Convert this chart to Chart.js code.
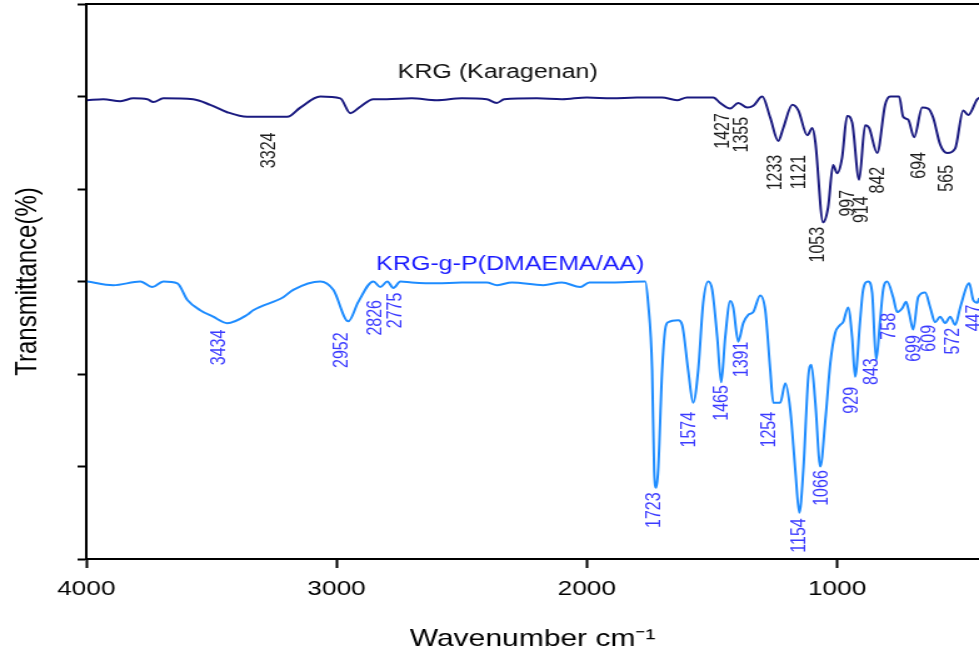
<!DOCTYPE html>
<html>
<head>
<meta charset="utf-8">
<title>FTIR KRG vs KRG-g-P(DMAEMA/AA)</title>
<script src="https://cdn.jsdelivr.net/npm/chart.js@4.4.1/dist/chart.umd.min.js"></script>
<style>
  html, body { margin: 0; padding: 0; background: #fff; overflow: hidden; }
  /* the source figure is stretched horizontally, so the chart is drawn narrow and scaled */
  #wrap { width: 783px; height: 660px; transform: scaleX(1.2503); transform-origin: 0 0; }
</style>
</head>
<body>
<div id="wrap"><canvas id="ftirChart" width="783" height="660"></canvas></div>
<script>
// KRG (Karagenan) spectrum
const krgWavenumber = [3996, 3932, 3864, 3812, 3756, 3732, 3692, 3573, 3505, 3437, 3357, 3277, 3197, 3145, 3065, 2985, 2945, 2905, 2853,
  2800, 2700, 2600, 2500, 2400, 2360, 2330, 2200, 2100, 2000, 1900, 1800, 1700, 1640, 1600, 1495, 1467, 1427, 1395, 1359, 1335,
  1299, 1267, 1235, 1215, 1179, 1155, 1119, 1099, 1087, 1056, 1036, 1016, 1000, 980, 960, 940, 912, 888, 872, 840, 808, 788,
  752, 736, 716, 692, 660, 636, 616, 588, 560, 528, 496, 476, 440, 430];
const krgTransmittance = [4.96, 4.97, 4.95, 4.98, 4.97, 4.94, 4.98, 4.97, 4.91, 4.83, 4.78, 4.78, 4.78, 4.88, 5.0, 4.98, 4.82, 4.89, 4.97,
  4.97, 4.98, 4.96, 4.98, 4.97, 4.93, 4.97, 4.98, 4.97, 4.99, 4.98, 4.99, 4.99, 4.96, 4.99, 4.99, 4.93, 4.87, 4.93, 4.88, 4.9,
  5.0, 4.77, 4.52, 4.66, 4.91, 4.85, 4.58, 4.66, 4.51, 3.64, 3.8, 4.26, 4.17, 4.34, 4.79, 4.72, 4.1, 4.69, 4.66, 4.39, 4.91, 5.0,
  5.0, 4.78, 4.75, 4.56, 4.88, 4.87, 4.77, 4.48, 4.39, 4.44, 4.85, 4.8, 4.97, 4.99];

// KRG-g-P(DMAEMA/AA) spectrum
const graftWavenumber = [3996, 3892, 3784, 3736, 3692, 3636, 3596, 3545, 3493, 3437, 3357, 3333, 3213, 3173, 3065, 3013, 2953, 2913,
  2853, 2825, 2797, 2773, 2745, 2700, 2600, 2500, 2400, 2358, 2300, 2174, 2100, 2026, 1990, 1900, 1767, 1755, 1739, 1731, 1723,
  1715, 1699, 1687, 1675, 1635, 1619, 1595, 1575, 1555, 1535, 1515, 1499, 1479, 1463, 1447, 1427, 1415, 1395, 1375, 1355, 1335,
  1307, 1287, 1267, 1255, 1227, 1207, 1187, 1167, 1151, 1135, 1115, 1103, 1087, 1067, 1047, 1027, 1008, 988, 976, 956, 940, 928,
  908, 896, 876, 860, 844, 828, 816, 800, 776, 760, 740, 724, 712, 696, 676, 648, 628, 608, 588, 568, 548, 528, 508, 472, 456,
  440, 432];
const graftTransmittance = [3.0, 2.96, 3.0, 2.94, 3.0, 2.98, 2.8, 2.69, 2.62, 2.55, 2.64, 2.69, 2.83, 2.91, 3.0, 2.91, 2.57, 2.78,
  3.0, 2.94, 3.0, 2.93, 3.0, 2.99, 2.98, 2.99, 2.99, 2.96, 2.99, 2.96, 2.99, 2.94, 2.99, 2.99, 3.0, 2.77, 2.04, 0.96, 0.77,
  0.96, 2.04, 2.48, 2.56, 2.58, 2.53, 2.04, 1.69, 2.04, 2.77, 3.0, 2.91, 2.4, 1.91, 2.4, 2.79, 2.72, 2.35, 2.55, 2.64, 2.67,
  2.85, 2.69, 2.04, 1.69, 1.69, 1.9, 1.61, 0.96, 0.5, 0.96, 1.97, 2.1, 1.69, 1.0, 1.5, 2.12, 2.44, 2.53, 2.56, 2.72, 2.4, 1.97,
  2.58, 2.91, 3.0, 2.88, 2.15, 2.58, 2.91, 3.0, 2.83, 2.67, 2.71, 2.78, 2.66, 2.48, 2.83, 2.88, 2.72, 2.56, 2.62, 2.55, 2.62,
  2.53, 2.72, 2.98, 2.8, 2.77, 2.82];

// peak labels: text, and where each label's top end sits (wavenumber, transmittance)
const krgPeaks = ['3324', '1427', '1355', '1233', '1121', '1053', '997', '914', '842', '694', '565'];
const krgLabelX = [3269, 1455, 1379, 1243, 1151, 1072, 956, 900, 836, 672, 560];
const krgLabelY = [4.61, 4.82, 4.78, 4.37, 4.37, 3.59, 3.99, 3.92, 4.24, 4.4, 4.26];

const graftPeaks = ['3434', '2952', '2826', '2775', '1723', '1574', '1465', '1391', '1254', '1154', '1066', '929', '843', '758', '699', '609', '572', '447'];
const graftLabelX = [3469, 2977, 2845, 2761, 1731, 1587, 1459, 1379, 1267, 1147, 1059, 940, 860, 792, 692, 628, 536, 448];
const graftLabelY = [2.48, 2.45, 2.8, 2.88, 0.72, 1.59, 1.88, 2.35, 1.59, 0.44, 0.96, 1.86, 2.17, 2.66, 2.42, 2.53, 2.5, 2.75];

// series names written on the plot
const seriesNames = ['KRG (Karagenan)', 'KRG-g-P(DMAEMA/AA)'];
const seriesNameX = [2356, 2306];
const seriesNameY = [5.2, 3.12];

const xTicks = [4000, 3000, 2000, 1000];
const yTicks = [0, 1, 2, 3, 4, 5, 6];

const FONT = "'Liberation Sans', Arial, sans-serif";
Chart.defaults.font.family = FONT;

const toPoints = (xs, ys) => xs.map((w, i) => ({ x: w, y: ys[i] }));

// draws the peak numbers (rotated) and the series names
const peakLabels = {
    id: 'peakLabels',
    afterDatasetsDraw(chart) {
        const { ctx, scales: { x, y } } = chart;
        ctx.save();

        const drawRotated = (texts, xs, ys, color) => {
            ctx.fillStyle = color;
            ctx.font = '16px ' + FONT;
            ctx.textAlign = 'right';
            ctx.textBaseline = 'middle';
            texts.forEach((t, i) => {
                ctx.save();
                ctx.translate(x.getPixelForValue(xs[i]), y.getPixelForValue(ys[i]));
                ctx.rotate(-Math.PI / 2);
                ctx.fillText(t, 0, 0);
                ctx.restore();
            });
        };
        drawRotated(krgPeaks, krgLabelX, krgLabelY, '#1c1c1c');
        drawRotated(graftPeaks, graftLabelX, graftLabelY, '#3b3bff');

        ctx.font = '20px ' + FONT;
        ctx.textAlign = 'center';
        ctx.textBaseline = 'alphabetic';
        const nameColors = ['#111111', '#1a1aff'];
        seriesNames.forEach((n, i) => {
            ctx.fillStyle = nameColors[i];
            ctx.fillText(n, x.getPixelForValue(seriesNameX[i]), y.getPixelForValue(seriesNameY[i]));
        });
        ctx.restore();
    }
};

new Chart(document.getElementById('ftirChart'), {
    type: 'line',
    data: {
        datasets: [
            {
                label: seriesNames[0],
                data: toPoints(krgWavenumber, krgTransmittance),
                borderColor: '#1a1a80',
                borderWidth: 2,
                pointRadius: 0,
                cubicInterpolationMode: 'monotone',
                fill: false
            },
            {
                label: seriesNames[1],
                data: toPoints(graftWavenumber, graftTransmittance),
                borderColor: '#1e8cff',
                borderWidth: 2,
                pointRadius: 0,
                cubicInterpolationMode: 'monotone',
                fill: false
            }
        ]
    },
    options: {
        responsive: false,
        animation: false,
        devicePixelRatio: 1,
        layout: { padding: { top: 4, right: 0, bottom: 0, left: 0 } },
        plugins: {
            legend: { display: false },
            tooltip: { enabled: false }
        },
        scales: {
            x: {
                type: 'linear',
                position: 'bottom',
                reverse: true,
                min: 433,
                max: 4000,
                afterBuildTicks: s => { s.ticks = xTicks.map(v => ({ value: v })); },
                afterFit: s => { s.height = 101; },
                grid: { drawOnChartArea: false, tickLength: 9, tickWidth: 2, tickColor: '#000' },
                border: { display: true, color: '#000', width: 2 },
                ticks: { color: '#000', font: { size: 21 }, padding: 9, maxRotation: 0, callback: v => String(v) },
                title: {
                    display: true,
                    text: 'Wavenumber cm⁻¹',
                    color: '#000',
                    font: { size: 24 },
                    padding: { top: 0, bottom: 6 }
                }
            },
            xTop: {
                type: 'linear',
                position: 'top',
                reverse: true,
                min: 433,
                max: 4000,
                afterFit: s => { s.height = 0; },
                grid: { display: false },
                border: { display: true, color: '#000', width: 2 },
                ticks: { display: false }
            },
            y: {
                min: 0,
                max: 6,
                position: 'left',
                afterBuildTicks: s => { s.ticks = yTicks.map(v => ({ value: v })); },
                afterFit: s => { s.width = 69; },
                grid: { drawOnChartArea: false, tickLength: 7, tickWidth: 2, tickColor: '#000' },
                border: { display: true, color: '#000', width: 2 },
                ticks: { display: false },
                title: {
                    display: true,
                    text: 'Transmittance(%)',
                    color: '#000',
                    font: { size: 24 },
                    padding: { top: 8, bottom: 0 }
                }
            }
        }
    },
    plugins: [peakLabels]
});
</script>
</body>
</html>
